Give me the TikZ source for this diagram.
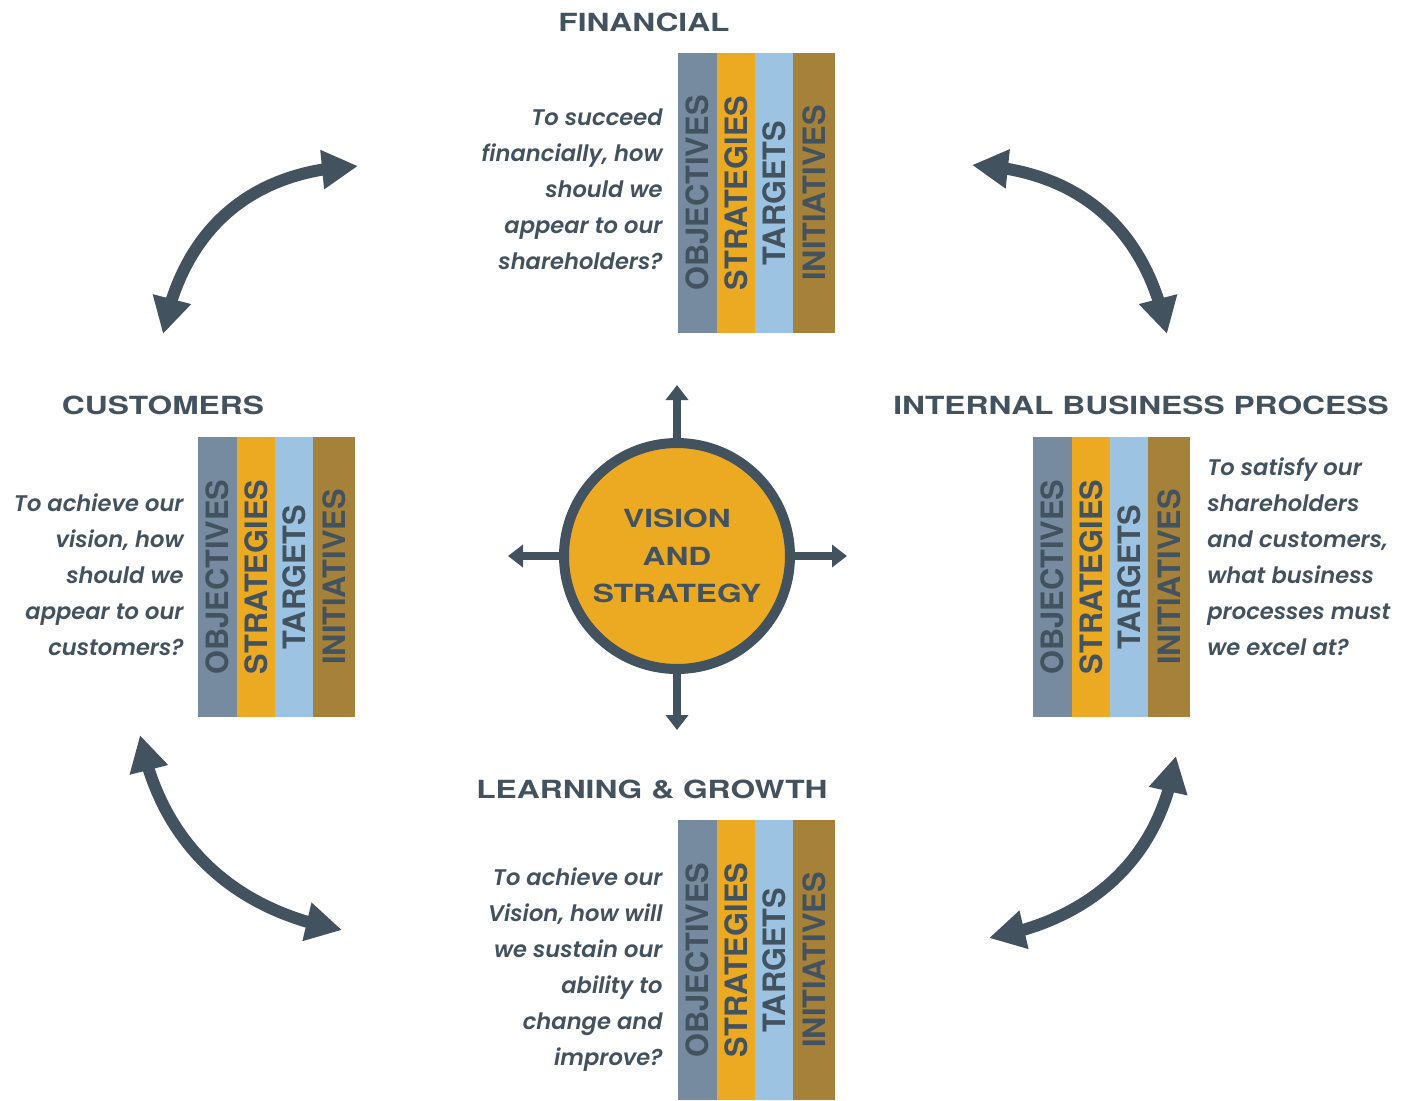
\documentclass[tikz,border=0pt]{standalone}
\usepackage{fontspec}
\usetikzlibrary{arrows.meta,bending}
\newfontfamily\headfont{TeX Gyre Heros}[FakeStretch=1.27]
\newfontfamily\colfont{TeX Gyre Heros}
\newfontfamily\qfont{Poppins}[BoldItalicFont={Poppins SemiBold Italic}]
\definecolor{slate}{HTML}{43525F}
\definecolor{cobj}{HTML}{768BA0}
\definecolor{cstr}{HTML}{ECAA22}
\definecolor{ctar}{HTML}{9CC3E1}
\definecolor{cini}{HTML}{A5813A}
\tikzset{
  colbox/.style={rotate=90, minimum width=140pt, inner sep=0pt, text=slate,
    font=\colfont\bfseries\fontsize{15.4}{15.4}\selectfont},
  heading/.style={anchor=base, inner sep=0pt, text=slate,
    font=\headfont\bfseries\fontsize{12.5}{12.5}\selectfont},
  question/.style={inner sep=0pt, text=slate,
    font=\qfont\bfseries\itshape\fontsize{11.3}{18}\selectfont},
  cardinal/.style={draw=slate, line width=4pt, -{Triangle[width=11pt,length=7.5pt]}},
  cycle arrow/.style={draw=slate, line width=6pt,
    {Triangle[width=18.5pt,length=18pt,flex]}-{Triangle[width=18.5pt,length=18pt,flex]}},
}
\newcommand{\bscols}[3]{%
  \node[colbox,fill=cobj,minimum height=19.75pt] (#1obj) at ({#2+19.5},{#3+140}) {OBJECTIVES};
  \node[colbox,fill=cstr,minimum height=19.25pt] (#1str) at ({#2+58},{#3+140}) {STRATEGIES};
  \node[colbox,fill=ctar,minimum height=19.25pt] (#1tar) at ({#2+96},{#3+140}) {TARGETS};
  \node[colbox,fill=cini,minimum height=21pt] (#1ini) at ({#2+136},{#3+140}) {INITIATIVES};
}
\begin{document}
\begin{tikzpicture}[x=0.5pt,y=-0.5pt]
\useasboundingbox (0,0) rectangle (1405,1100);

% headings
\node[heading] (hfin) at (644,31) {FINANCIAL};
\node[heading] (hcus) at (163,414) {CUSTOMERS};
\node[heading] (hibp) at (1141,414) {INTERNAL BUSINESS PROCESS};
\node[heading] (hlg) at (652,798) {LEARNING \& GROWTH};

% column blocks
\bscols{fin}{678}{53}
\bscols{cus}{198}{437}
\bscols{ibp}{1033}{437}
\bscols{lg}{678}{820}

% questions
\node[question,anchor=north east,align=right] (qfin) at (663,108)
  {To succeed\\financially, how\\should we\\appear to our\\shareholders?};
\node[question,anchor=north east,align=right] (qcus) at (184,493)
  {To achieve our\\vision, how\\should we\\appear to our\\customers?};
\node[question,anchor=north west,align=left] (qibp) at (1207,457)
  {To satisfy our\\shareholders\\and customers,\\what business\\processes must\\we excel at?};
\node[question,anchor=north east,align=right] (qlg) at (663,867)
  {To achieve our\\Vision, how will\\we sustain our\\ability to\\change and\\improve?};

% centre
\node[circle, draw=slate, line width=5pt, fill=cstr, minimum size=113pt, inner sep=0pt,
      text=slate, align=center,
      font=\headfont\bfseries\fontsize{12.5}{18.75}\selectfont] (vs) at (677,556)
  {VISION\\AND\\STRATEGY};
\coordinate (vsN) at (677,385);
\coordinate (vsS) at (677,730);
\coordinate (vsW) at (508,556);
\coordinate (vsE) at (847,556);
\draw[cardinal] (vs.north) -- (vsN);
\draw[cardinal] (vs.south) -- (vsS);
\draw[cardinal] (vs.west) -- (vsW);
\draw[cardinal] (vs.east) -- (vsE);

% cycle arrows
\coordinate (tlA) at (163,334);
\coordinate (tlB) at (358,166);
\coordinate (trA) at (1167,334);
\coordinate (trB) at (972,165);
\coordinate (blA) at (140,735);
\coordinate (blB) at (342,930);
\coordinate (brA) at (1176,756);
\coordinate (brB) at (989,938);
\draw[cycle arrow] (tlA) .. controls (183,230) and (250,170) .. (tlB);
\draw[cycle arrow] (trA) .. controls (1147,230) and (1080,170) .. (trB);
\draw[cycle arrow] (blA) .. controls (160,840) and (230,910) .. (blB);
\draw[cycle arrow] (brA) .. controls (1160,860) and (1090,920) .. (brB);
\end{tikzpicture}
\end{document}
